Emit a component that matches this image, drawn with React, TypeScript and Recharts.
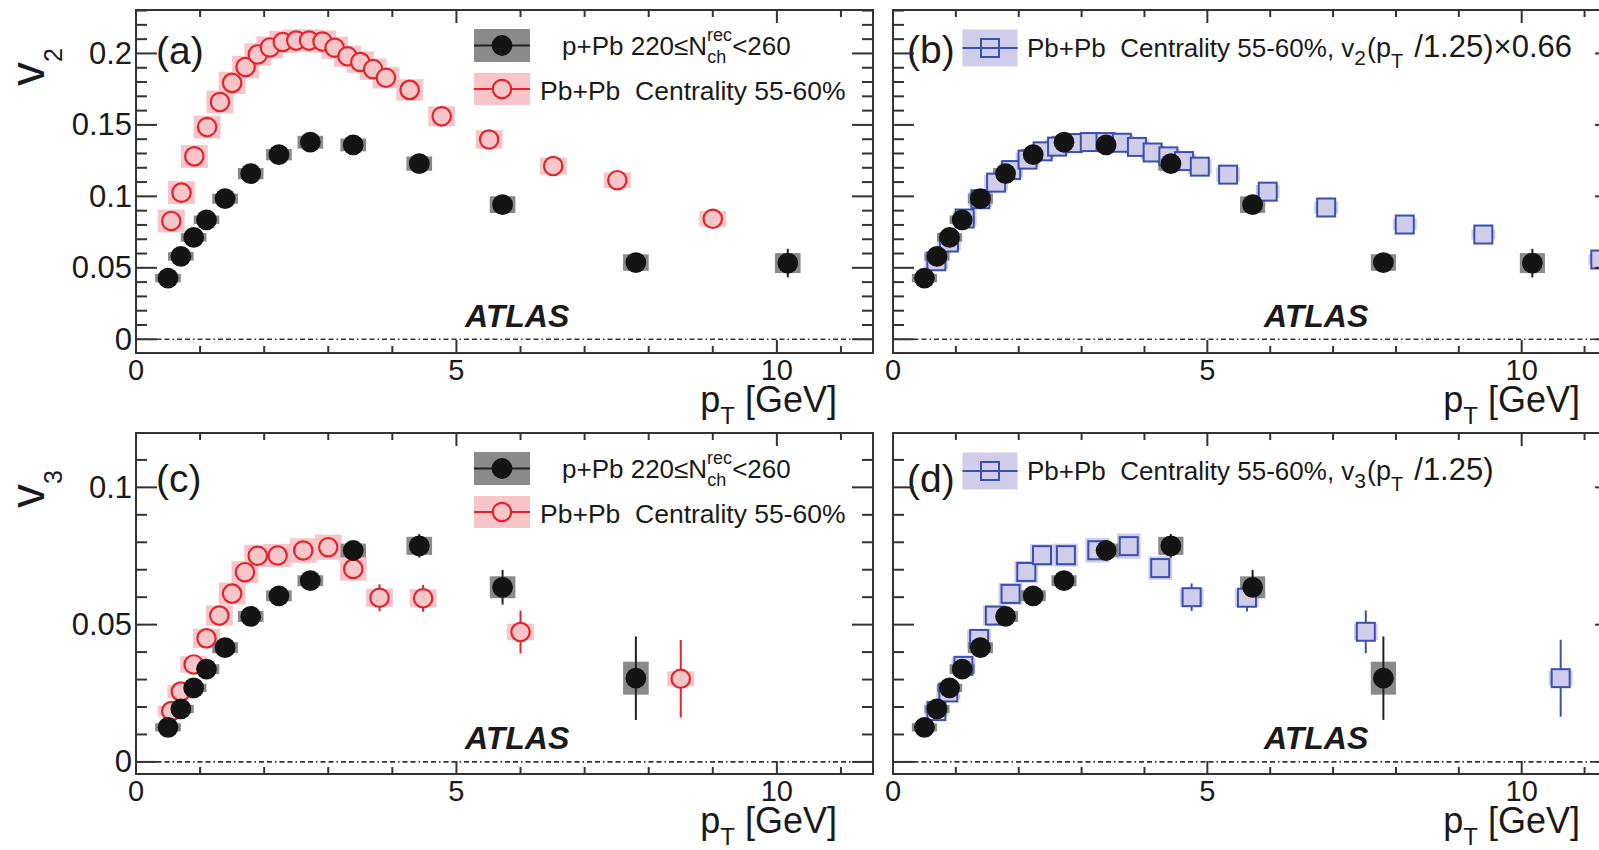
import React from "react";
import {
  ScatterChart,
  Scatter,
  XAxis,
  YAxis,
  ErrorBar,
  ReferenceArea,
  ReferenceLine,
} from "recharts";

const FONT = "'Liberation Sans', Arial, Helvetica, sans-serif";
const CHART_W = 1640;
const CHART_H = 850;

// p+Pb 220 <= Nch(rec) < 260
const ppbV2Pt = [0.5, 0.7, 0.9, 1.1, 1.39, 1.79, 2.23, 2.72, 3.39, 4.42, 5.72, 7.8, 10.17];
const ppbV2 = [0.0428, 0.058, 0.0713, 0.0836, 0.0984, 0.1159, 0.1292, 0.1379, 0.136, 0.1229, 0.0942, 0.0537, 0.0533];
const ppbV2Stat = [0, 0, 0, 0, 0, 0, 0, 0, 0, 0.001, 0.002, 0.004, 0.01];
const ppbV2Sys = [0.003, 0.003, 0.003, 0.003, 0.0035, 0.004, 0.004, 0.0045, 0.0045, 0.005, 0.0058, 0.0058, 0.007];

const ppbV3Pt = [0.5, 0.7, 0.9, 1.1, 1.39, 1.79, 2.23, 2.72, 3.39, 4.42, 5.72, 7.8];
const ppbV3 = [0.0126, 0.0193, 0.027, 0.0338, 0.0416, 0.053, 0.0605, 0.066, 0.077, 0.0787, 0.0636, 0.0305];
const ppbV3Stat = [0, 0, 0, 0, 0, 0, 0, 0, 0.0015, 0.0043, 0.0063, 0.0152];
const ppbV3Sys = [0.0015, 0.0015, 0.0015, 0.0018, 0.002, 0.002, 0.002, 0.002, 0.0025, 0.0033, 0.004, 0.006];

// Pb+Pb centrality 55-60%
const pbpbV2Pt = [0.55, 0.71, 0.91, 1.11, 1.31, 1.5, 1.71, 1.9, 2.09, 2.29, 2.5, 2.7, 2.91, 3.1, 3.3, 3.5, 3.7, 3.9, 4.27, 4.77, 5.51, 6.51, 7.51, 9.0];
const pbpbV2 = [0.0828, 0.1026, 0.128, 0.1485, 0.166, 0.1794, 0.1905, 0.1993, 0.2042, 0.208, 0.209, 0.209, 0.2083, 0.204, 0.198, 0.194, 0.189, 0.183, 0.1745, 0.156, 0.1398, 0.1212, 0.1113, 0.0843];
const pbpbV2Sys = [0.008, 0.008, 0.008, 0.008, 0.008, 0.0078, 0.0078, 0.0078, 0.0078, 0.0078, 0.0078, 0.0078, 0.0078, 0.0078, 0.0075, 0.0075, 0.0075, 0.0075, 0.0075, 0.007, 0.0065, 0.006, 0.0055, 0.0055];

const pbpbV3Pt = [0.55, 0.7, 0.9, 1.1, 1.3, 1.5, 1.7, 1.9, 2.21, 2.61, 3.0, 3.39, 3.8, 4.48, 6.0, 8.5];
const pbpbV3 = [0.0185, 0.0256, 0.0355, 0.045, 0.0533, 0.0613, 0.0691, 0.0751, 0.0752, 0.077, 0.0782, 0.0703, 0.0598, 0.0596, 0.0473, 0.0303];
const pbpbV3Stat = [0, 0, 0, 0, 0, 0, 0, 0, 0, 0, 0, 0.002, 0.0049, 0.0049, 0.0078, 0.0141];
const pbpbV3Sys = [0.002, 0.0025, 0.003, 0.0035, 0.0037, 0.004, 0.004, 0.004, 0.0042, 0.0045, 0.0046, 0.0043, 0.0033, 0.0033, 0.003, 0.0027];

// Pb+Pb rescaled: v2(pT/1.25)x0.66 and v3(pT/1.25)
const pbpbV2ScPt = [0.69, 0.89, 1.14, 1.39, 1.64, 1.88, 2.14, 2.38, 2.61, 2.86, 3.13, 3.38, 3.64, 3.88, 4.13, 4.38, 4.63, 4.88, 5.33, 5.96, 6.89, 8.14, 9.39, 11.25];
const pbpbV2Sc = [0.0546, 0.0677, 0.0845, 0.098, 0.1096, 0.1184, 0.1257, 0.1315, 0.1348, 0.1373, 0.138, 0.138, 0.1375, 0.1346, 0.1307, 0.128, 0.1247, 0.1208, 0.1152, 0.1033, 0.0922, 0.0803, 0.0733, 0.0558];
const pbpbV2ScSys = [0.0053, 0.0053, 0.0053, 0.0053, 0.0053, 0.0051, 0.0051, 0.0051, 0.0051, 0.0051, 0.0051, 0.0051, 0.0051, 0.0051, 0.005, 0.005, 0.005, 0.005, 0.005, 0.0046, 0.0043, 0.004, 0.0036, 0.0036];

const pbpbV3ScPt = [0.69, 0.88, 1.12, 1.37, 1.62, 1.87, 2.12, 2.37, 2.75, 3.25, 3.75, 4.25, 4.75, 5.63, 7.52, 10.62];
const pbpbV3Sc = [0.0185, 0.0253, 0.035, 0.0448, 0.0533, 0.0612, 0.0692, 0.0753, 0.0753, 0.0771, 0.0786, 0.0706, 0.06, 0.0598, 0.0474, 0.0305];
const pbpbV3ScStat = [0, 0, 0, 0, 0, 0, 0, 0, 0, 0, 0, 0.002, 0.005, 0.005, 0.0078, 0.014];
const pbpbV3ScSys = [0.002, 0.0025, 0.003, 0.0035, 0.0037, 0.004, 0.004, 0.004, 0.0042, 0.0045, 0.0046, 0.0043, 0.0033, 0.0033, 0.003, 0.0027];

// axes
const xTicks = [0, 1, 2, 3, 4, 5, 6, 7, 8, 9, 10, 11];
const xLabels = [0, 5, 10];
const v2Ticks = [0, 0.01, 0.02, 0.03, 0.04, 0.05, 0.06, 0.07, 0.08, 0.09, 0.1, 0.11, 0.12, 0.13, 0.14, 0.15, 0.16, 0.17, 0.18, 0.19, 0.2, 0.21, 0.22, 0.23];
const v3Ticks = [0, 0.01, 0.02, 0.03, 0.04, 0.05, 0.06, 0.07, 0.08, 0.09, 0.1, 0.11];
const yLabels = [0, 0.05, 0.1, 0.15, 0.2];

const AXIS = "#333";
const INK = "#1a1a1a";
const BLACK = "#141414";
const GRAY = "#8a8a8a";
const RED = "#e3232c";
const PINK = "#f8c5c8";
const BLUE = "#3a4fb0";
const LAVENDER = "#cfcde9";

type Pt = { x: number; y: number; stat: number; sys: number };

const toPoints = (pt: number[], v: number[], sys: number[], stat?: number[]): Pt[] =>
  pt.map((x, i) => ({ x, y: v[i], sys: sys[i], stat: stat ? stat[i] : 0 }));

const Dot = (p: any) => <circle cx={p.cx} cy={p.cy} r={10.4} fill={BLACK} />;
const OpenCircle = (p: any) => (
  <circle cx={p.cx} cy={p.cy} r={9.2} fill={PINK} stroke={RED} strokeWidth={2.2} />
);
const OpenSquare = (p: any) => (
  <rect x={p.cx - 9} y={p.cy - 9} width={18} height={18} fill={LAVENDER} stroke={BLUE} strokeWidth={2} />
);
const Nothing = () => <g />;

const ppb = { shape: Dot, box: GRAY, hw: 0.2, bar: "#222" };
const pbpbCircle = { shape: OpenCircle, box: PINK, hw: 0.21, bar: RED };
const pbpbSquare = { shape: OpenSquare, box: LAVENDER, hw: 0.19, bar: BLUE };

const XTick = ({ x, y, payload, h }: any) => {
  const v = payload.value;
  const major = v % 5 === 0;
  const len = major ? 13 : 7;
  return (
    <g>
      <line x1={x} y1={y} x2={x} y2={y - len} stroke={AXIS} strokeWidth={2} />
      <line x1={x} y1={y - h} x2={x} y2={y - h + len} stroke={AXIS} strokeWidth={2} />
      {xLabels.includes(v) && (
        <text x={x} y={y + 27} textAnchor="middle" fontFamily={FONT} fontSize={29} fill={INK}>
          {v}
        </text>
      )}
    </g>
  );
};

const YTick = ({ x, y, payload, w, labels }: any) => {
  const v = payload.value;
  const major = Math.abs(v * 20 - Math.round(v * 20)) < 1e-6;
  const len = major ? 21 : 11;
  return (
    <g>
      <line x1={x} y1={y} x2={x + len} y2={y} stroke={AXIS} strokeWidth={2} />
      <line x1={x + w - len} y1={y} x2={x + w} y2={y} stroke={AXIS} strokeWidth={2} />
      {labels && yLabels.includes(v) && (
        <text x={x - 4} y={y} textAnchor="end" dominantBaseline="central" fontFamily={FONT} fontSize={31} fill={INK}>
          {String(v)}
        </text>
      )}
    </g>
  );
};

type SeriesCfg = { points: Pt[]; shape: (p: any) => React.ReactElement; box: string; hw: number; bar: string };
type PanelCfg = {
  left: number;
  top: number;
  right: number;
  bottom: number;
  yDomain: [number, number];
  yTicks: number[];
  labels: boolean;
  series: SeriesCfg[];
  extra: React.ReactNode;
};

const txt = { fontFamily: FONT, fill: INK, style: { whiteSpace: "pre" as const } };

const XTitle = ({ right, bottom }: { right: number; bottom: number }) => (
  <text x={right - 36} y={bottom + 59} textAnchor="end" fontSize={36} {...txt}>
    p<tspan fontSize={24} dy={12}>T</tspan>
    <tspan dy={-12}> [GeV]</tspan>
  </text>
);

const YTitle = ({ y, sub }: { y: number; sub: string }) => (
  <text transform={`translate(44, ${y}) rotate(-90)`} fontSize={48} {...txt}>
    v<tspan fontSize={25} dy={18}>{sub}</tspan>
  </text>
);

const Tag = ({ x, y, t }: { x: number; y: number; t: string }) => (
  <text x={x} y={y} fontSize={39} {...txt}>
    {t}
  </text>
);

const Atlas = ({ x, y }: { x: number; y: number }) => (
  <text x={x} y={y} fontSize={32} fontWeight="bold" fontStyle="italic" {...txt}>
    ATLAS
  </text>
);

const LegendKey = ({ cx, cy, w, h, fill, line, children }: any) => (
  <g>
    <rect x={cx - w / 2} y={cy - h / 2} width={w} height={h} fill={fill} />
    <line x1={cx - w / 2} y1={cy} x2={cx + w / 2} y2={cy} stroke={line} strokeWidth={2} />
    {children}
  </g>
);

const PairLegend = ({ top }: { top: number }) => (
  <g>
    <LegendKey cx={502} cy={top + 35.5} w={56} h={33} fill={GRAY} line="#222">
      <circle cx={502} cy={top + 35.5} r={10.4} fill={BLACK} />
    </LegendKey>
    <text x={562} y={top + 44.5} fontSize={26} {...txt}>
      p+Pb 220≤N
      <tspan fontSize={18} dy={-14}>rec</tspan>
      <tspan fontSize={18} dx={-25} dy={22}>ch</tspan>
      <tspan fontSize={26} dx={6} dy={-8}>{"<260"}</tspan>
    </text>
    <LegendKey cx={502} cy={top + 79} w={56} h={32} fill={PINK} line={RED}>
      <circle cx={502} cy={top + 79} r={9.2} fill={PINK} stroke={RED} strokeWidth={2.2} />
    </LegendKey>
    <text x={540} y={top + 90} fontSize={26.5} {...txt}>
      {"Pb+Pb  Centrality 55-60%"}
    </text>
  </g>
);

const ScaledLegend = ({ top, sub, tail }: { top: number; sub: string; tail: string }) => (
  <g>
    <LegendKey cx={990} cy={top + 38} w={55} h={37} fill={LAVENDER} line={BLUE}>
      <rect x={981} y={top + 29} width={18} height={18} fill="none" stroke={BLUE} strokeWidth={2} />
    </LegendKey>
    <text x={1027} y={top + 47} fontSize={26} {...txt}>
      {"Pb+Pb  Centrality 55-60%, v"}
      <tspan fontSize={21} dy={8}>{sub}</tspan>
      <tspan fontSize={27} dx={1} dy={-8}>(p</tspan>
      <tspan fontSize={20} dy={11}>T</tspan>
      <tspan fontSize={31} dx={11} dy={-11}>{"/1.25)" + tail}</tspan>
    </text>
  </g>
);

function Panel({ p }: { p: PanelCfg }) {
  const w = p.right - p.left;
  const h = p.bottom - p.top;
  // axes need a non-zero size to be drawn; they take 1px out of the margins
  return (
    <div style={{ position: "absolute", left: 0, top: 0 }}>
      <ScatterChart
        width={CHART_W}
        height={CHART_H}
        margin={{ top: p.top, left: p.left - 1, right: CHART_W - p.right, bottom: CHART_H - p.bottom - 1 }}
      >
        <XAxis
          type="number"
          dataKey="x"
          domain={[0, 11.5]}
          allowDataOverflow
          ticks={xTicks}
          interval={0}
          height={1}
          tickSize={0}
          tickMargin={0}
          axisLine={false}
          tickLine={false}
          tick={(t: any) => <XTick {...t} h={h} />}
        />
        <YAxis
          type="number"
          dataKey="y"
          domain={p.yDomain}
          allowDataOverflow
          ticks={p.yTicks}
          interval={0}
          width={1}
          tickSize={0}
          tickMargin={0}
          axisLine={false}
          tickLine={false}
          tick={(t: any) => <YTick {...t} w={w} labels={p.labels} />}
        />
        <ReferenceLine y={0} stroke={AXIS} strokeWidth={1.6} strokeDasharray="5 3 5 3 1.5 3" />
        {p.series.map((s, si) =>
          s.points.map((d, i) => (
            <ReferenceArea
              key={`box-${si}-${i}`}
              x1={d.x - s.hw}
              x2={d.x + s.hw}
              y1={d.y - d.sys}
              y2={d.y + d.sys}
              fill={s.box}
              fillOpacity={1}
              stroke="none"
              ifOverflow="hidden"
            />
          ))
        )}
        {p.series.map((s, si) => (
          <Scatter
            key={`stat-${si}`}
            data={s.points.filter((d) => d.stat > 0)}
            shape={Nothing}
            isAnimationActive={false}
          >
            <ErrorBar dataKey="stat" direction="y" width={0} stroke={s.bar} strokeWidth={2} isAnimationActive={false} />
          </Scatter>
        ))}
        {p.series.map((s, si) => (
          <Scatter key={`pts-${si}`} data={s.points} shape={s.shape} isAnimationActive={false} />
        ))}
        <ReferenceArea
          x1={0}
          x2={11.5}
          y1={p.yDomain[0]}
          y2={p.yDomain[1]}
          fill="none"
          stroke={AXIS}
          strokeWidth={2}
          ifOverflow="visible"
        />
        {p.extra}
        <XTitle right={p.right} bottom={p.bottom} />
      </ScatterChart>
    </div>
  );
}

const panels: PanelCfg[] = [
  {
    left: 136,
    top: 10,
    right: 873,
    bottom: 353,
    yDomain: [-0.0096, 0.2304],
    yTicks: v2Ticks,
    labels: true,
    series: [
      { points: toPoints(pbpbV2Pt, pbpbV2, pbpbV2Sys), ...pbpbCircle },
      { points: toPoints(ppbV2Pt, ppbV2, ppbV2Sys, ppbV2Stat), ...ppb },
    ],
    extra: (
      <g>
        <YTitle y={86} sub="2" />
        <Tag x={156} y={64} t="(a)" />
        <PairLegend top={10} />
        <Atlas x={465} y={327} />
      </g>
    ),
  },
  {
    left: 893,
    top: 10,
    right: 1616,
    bottom: 353,
    yDomain: [-0.0096, 0.2304],
    yTicks: v2Ticks,
    labels: false,
    series: [
      { points: toPoints(pbpbV2ScPt, pbpbV2Sc, pbpbV2ScSys), ...pbpbSquare },
      { points: toPoints(ppbV2Pt, ppbV2, ppbV2Sys, ppbV2Stat), ...ppb },
    ],
    extra: (
      <g>
        <Tag x={907} y={63} t="(b)" />
        <ScaledLegend top={10} sub="2" tail="×0.66" />
        <Atlas x={1264} y={327} />
      </g>
    ),
  },
  {
    left: 136,
    top: 433,
    right: 873,
    bottom: 774,
    yDomain: [-0.0044, 0.1198],
    yTicks: v3Ticks,
    labels: true,
    series: [
      { points: toPoints(pbpbV3Pt, pbpbV3, pbpbV3Sys, pbpbV3Stat), ...pbpbCircle },
      { points: toPoints(ppbV3Pt, ppbV3, ppbV3Sys, ppbV3Stat), ...ppb },
    ],
    extra: (
      <g>
        <YTitle y={508} sub="3" />
        <Tag x={156} y={492} t="(c)" />
        <PairLegend top={433} />
        <Atlas x={465} y={749} />
      </g>
    ),
  },
  {
    left: 893,
    top: 433,
    right: 1616,
    bottom: 774,
    yDomain: [-0.0044, 0.1198],
    yTicks: v3Ticks,
    labels: false,
    series: [
      { points: toPoints(pbpbV3ScPt, pbpbV3Sc, pbpbV3ScSys, pbpbV3ScStat), ...pbpbSquare },
      { points: toPoints(ppbV3Pt, ppbV3, ppbV3Sys, ppbV3Stat), ...ppb },
    ],
    extra: (
      <g>
        <Tag x={907} y={492} t="(d)" />
        <ScaledLegend top={433} sub="3" tail="" />
        <Atlas x={1264} y={749} />
      </g>
    ),
  },
];

export default function App() {
  return (
    <div
      style={{
        position: "absolute",
        left: 0,
        top: 0,
        width: 1599,
        height: 850,
        overflow: "hidden",
        background: "#fff",
      }}
    >
      {panels.map((p, i) => (
        <Panel key={i} p={p} />
      ))}
    </div>
  );
}
